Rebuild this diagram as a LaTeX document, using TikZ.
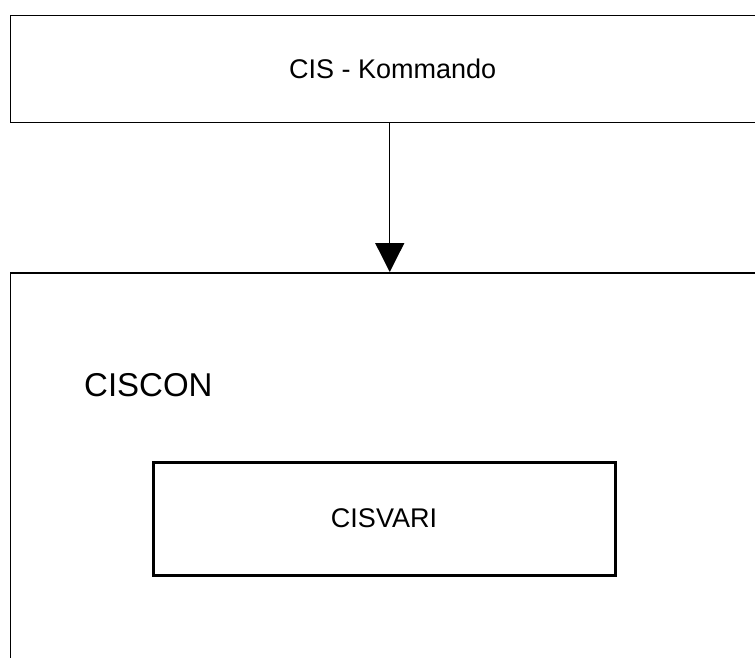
\documentclass[tikz,border=0pt]{standalone}
\usepackage{fontspec}
\setmainfont{Liberation Sans}
\usetikzlibrary{arrows.meta}
\begin{document}
\begin{tikzpicture}[x=1pt,y=-1pt,
  outerbox/.style={draw=black, line width=1.5pt, rectangle, inner sep=0pt},
  innerbox/.style={draw=black, line width=3pt, rectangle, inner sep=0pt},
  conn/.style={draw=black, line width=1.3pt, -{Triangle[width=29pt,length=29pt]}}]
\useasboundingbox (0,0) rectangle (755,657);
\clip (0,0) rectangle (755,657);
\fill[white] (0,0) rectangle (755,657);
\node[outerbox, minimum width=765pt, minimum height=107pt, anchor=north west,
      font=\fontsize{27}{32}\selectfont] (cmd) at (9.5,14.5) {CIS - Kommando};
\node[outerbox, minimum width=759pt, minimum height=420pt, anchor=north west] (con) at (9.5,272) {};
\node[anchor=west, inner sep=0pt, font=\fontsize{33}{40}\selectfont] (conlabel) at (84,385) {CISCON};
\node[innerbox, minimum width=462pt, minimum height=113pt,
      font=\fontsize{27}{32}\selectfont] (vari) at (384,518.5) {CISVARI};
\draw[conn] (cmd.south -| con.north) -- (con.north);
\end{tikzpicture}
\end{document}
